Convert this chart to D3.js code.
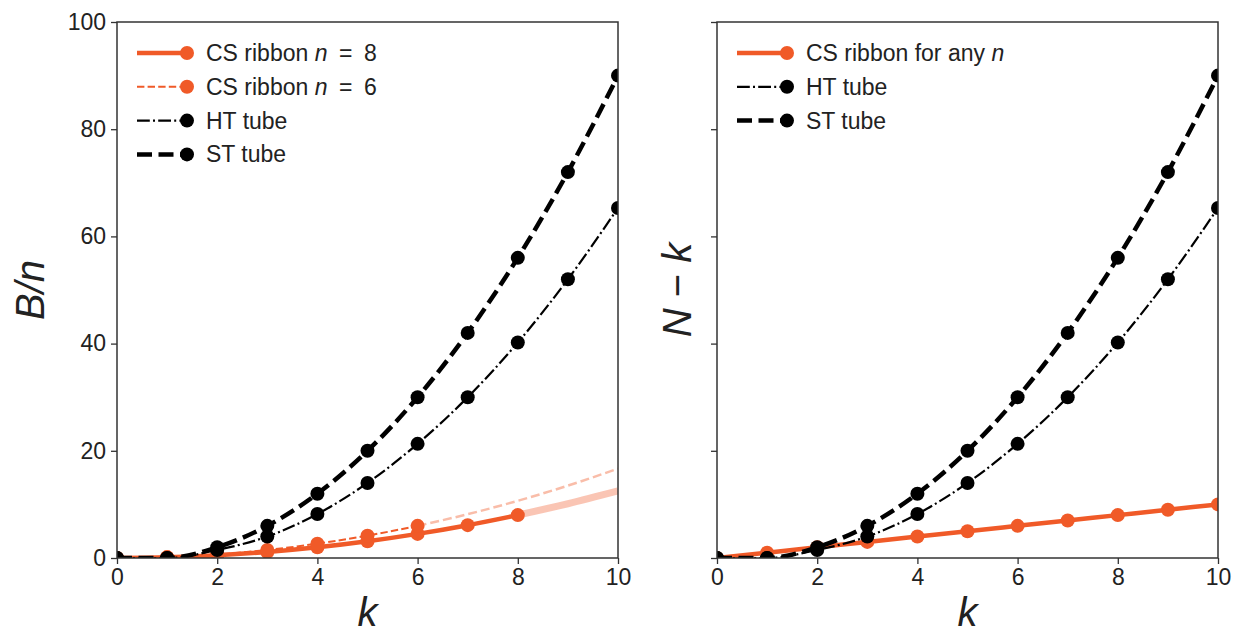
<!DOCTYPE html>
<html>
<head>
<meta charset="utf-8">
<script src="https://cdn.jsdelivr.net/npm/d3@7"></script>
<style>
  body { margin: 0; background: #fff; }
  text { font-family: "Liberation Sans", Arial, sans-serif; fill: #222; }
</style>
</head>
<body>
<div id="chart"></div>
<script>
// k values shared by every series
const kValues = [0, 1, 2, 3, 4, 5, 6, 7, 8, 9, 10];

// left panel: B/n
const csN8 = [0, 0.125, 0.5, 1.125, 2, 3.125, 4.5, 6.125, 8];
const csN8Tail = [8, 10.125, 12.5]; // k = 8..10, faded
const csN6 = [0, 0.17, 0.67, 1.5, 2.67, 4.17, 6];
const csN6Tail = [6, 8.17, 10.67, 13.5, 16.67]; // k = 6..10, faded
const htTube = [0, 0, 1.5, 4, 8.2, 14, 21.3, 30, 40.2, 52, 65.3];
const stTube = [0, 0, 2, 6, 12, 20, 30, 42, 56, 72, 90];

// right panel: N - k
const csAny = [0, 1, 2, 3, 4, 5, 6, 7, 8, 9, 10];

const yTicks = [0, 20, 40, 60, 80, 100];
const xTicks = [0, 2, 4, 6, 8, 10];

const orange = "#f05a28";
const W = 1237, H = 636;
const axTop = 22, axBottom = 558;

const svg = d3.select("#chart").append("svg")
  .attr("width", W).attr("height", H);

const pts = (vals, k0 = 0) => vals.map((v, i) => [kValues[i + k0], v]);

const drawPanel = (left, right, id, showYLabels, series, legendRows, yLabel) => {
  const x = d3.scaleLinear().domain([0, 10]).range([left, right]);
  const y = d3.scaleLinear().domain([0, 100]).range([axBottom, axTop]);
  const g = svg.append("g");

  g.append("clipPath").attr("id", id)
    .append("rect").attr("x", left).attr("y", axTop)
    .attr("width", right - left).attr("height", axBottom - axTop);

  const line = d3.line().x(d => x(d[0])).y(d => y(d[1])).curve(d3.curveMonotoneX);
  const plot = g.append("g").attr("clip-path", `url(#${id})`);

  series.forEach(s => {
    plot.append("path")
      .attr("d", line(s.data))
      .attr("fill", "none")
      .attr("stroke", s.color)
      .attr("stroke-opacity", s.opacity || 1)
      .attr("stroke-width", s.width)
      .attr("stroke-dasharray", s.dash || null);
    if (s.markers) {
      plot.selectAll(null).data(s.data).enter().append("circle")
        .attr("cx", d => x(d[0])).attr("cy", d => y(d[1]))
        .attr("r", 7).attr("fill", s.color);
    }
  });

  // axes
  const xAxis = d3.axisBottom(x).tickValues(xTicks).tickSize(6).tickPadding(5);
  const yAxis = d3.axisLeft(y).tickValues(yTicks).tickSize(6).tickPadding(5);
  if (!showYLabels) yAxis.tickFormat("");

  const gx = g.append("g").attr("transform", `translate(0,${axBottom})`).call(xAxis);
  const gy = g.append("g").attr("transform", `translate(${left},0)`).call(yAxis);
  [gx, gy].forEach(a => {
    a.select(".domain").remove();
    a.selectAll("line").attr("stroke", "#333").attr("stroke-width", 1.3);
    a.selectAll("text").style("font-size", "23px")
      .style("font-family", "'Liberation Sans', Arial, sans-serif").attr("fill", "#222");
  });

  g.append("rect").attr("x", left).attr("y", axTop)
    .attr("width", right - left).attr("height", axBottom - axTop)
    .attr("fill", "none").attr("stroke", "#333").attr("stroke-width", 1.5);

  // x label
  g.append("text").attr("x", (left + right) / 2).attr("y", 626)
    .attr("text-anchor", "middle").style("font-size", "40px")
    .style("font-style", "italic").text("k");

  // y label
  const yl = g.append("text")
    .attr("transform", `translate(${yLabel.x},${(axTop + axBottom) / 2}) rotate(-90)`)
    .attr("text-anchor", "middle").style("font-size", "40px");
  yLabel.parts.forEach(p => yl.append("tspan")
    .style("font-style", p.italic ? "italic" : "normal").text(p.t));

  // legend
  const lx = left + 20;
  legendRows.forEach((r, i) => {
    const ly = axTop + 31 + i * 33.8;
    g.append("line").attr("x1", lx).attr("x2", lx + 50)
      .attr("y1", ly).attr("y2", ly)
      .attr("stroke", r.color).attr("stroke-width", r.width)
      .attr("stroke-dasharray", r.dash || null);
    g.append("circle").attr("cx", lx + 50).attr("cy", ly).attr("r", 7).attr("fill", r.color);
    const t = g.append("text").attr("x", lx + 69).attr("y", ly + 8)
      .style("font-size", "23px");
    r.label.forEach(p => t.append("tspan")
      .style("font-style", p.italic ? "italic" : "normal").text(p.t));
  });
};

const stStyle = { color: "#000", width: 4.5, dash: "15,6.5" };
const htStyle = { color: "#000", width: 2.2, dash: "12.8,3.2,2,3.2" };
const csStyle = { color: orange, width: 4.5 };
const cs6Style = { color: orange, width: 2, dash: "7.4,3.2" };

drawPanel(117, 618, "clipL", true, [
  { data: pts(csN8Tail, 8), color: orange, width: 7, opacity: 0.35 },
  { data: pts(csN6Tail, 6), color: orange, width: 2.5, opacity: 0.4, dash: "9,4" },
  { data: pts(csN8), ...csStyle, markers: true },
  { data: pts(csN6), ...cs6Style, markers: true },
  { data: pts(htTube), ...htStyle, markers: true },
  { data: pts(stTube), ...stStyle, markers: true }
], [
  { ...csStyle, label: [{ t: "CS ribbon " }, { t: "n", italic: true }, { t: "\u2002=\u20028" }] },
  { ...cs6Style, label: [{ t: "CS ribbon " }, { t: "n", italic: true }, { t: "\u2002=\u20026" }] },
  { ...htStyle, label: [{ t: "HT tube" }] },
  { ...stStyle, label: [{ t: "ST tube" }] }
], { x: 44, parts: [{ t: "B/n", italic: true }] });

drawPanel(717, 1218, "clipR", false, [
  { data: pts(csAny), ...csStyle, markers: true },
  { data: pts(htTube), ...htStyle, markers: true },
  { data: pts(stTube), ...stStyle, markers: true }
], [
  { ...csStyle, label: [{ t: "CS ribbon for any " }, { t: "n", italic: true }] },
  { ...htStyle, label: [{ t: "HT tube" }] },
  { ...stStyle, label: [{ t: "ST tube" }] }
], { x: 691, parts: [{ t: "N", italic: true }, { t: " − " }, { t: "k", italic: true }] });
</script>
</body>
</html>
